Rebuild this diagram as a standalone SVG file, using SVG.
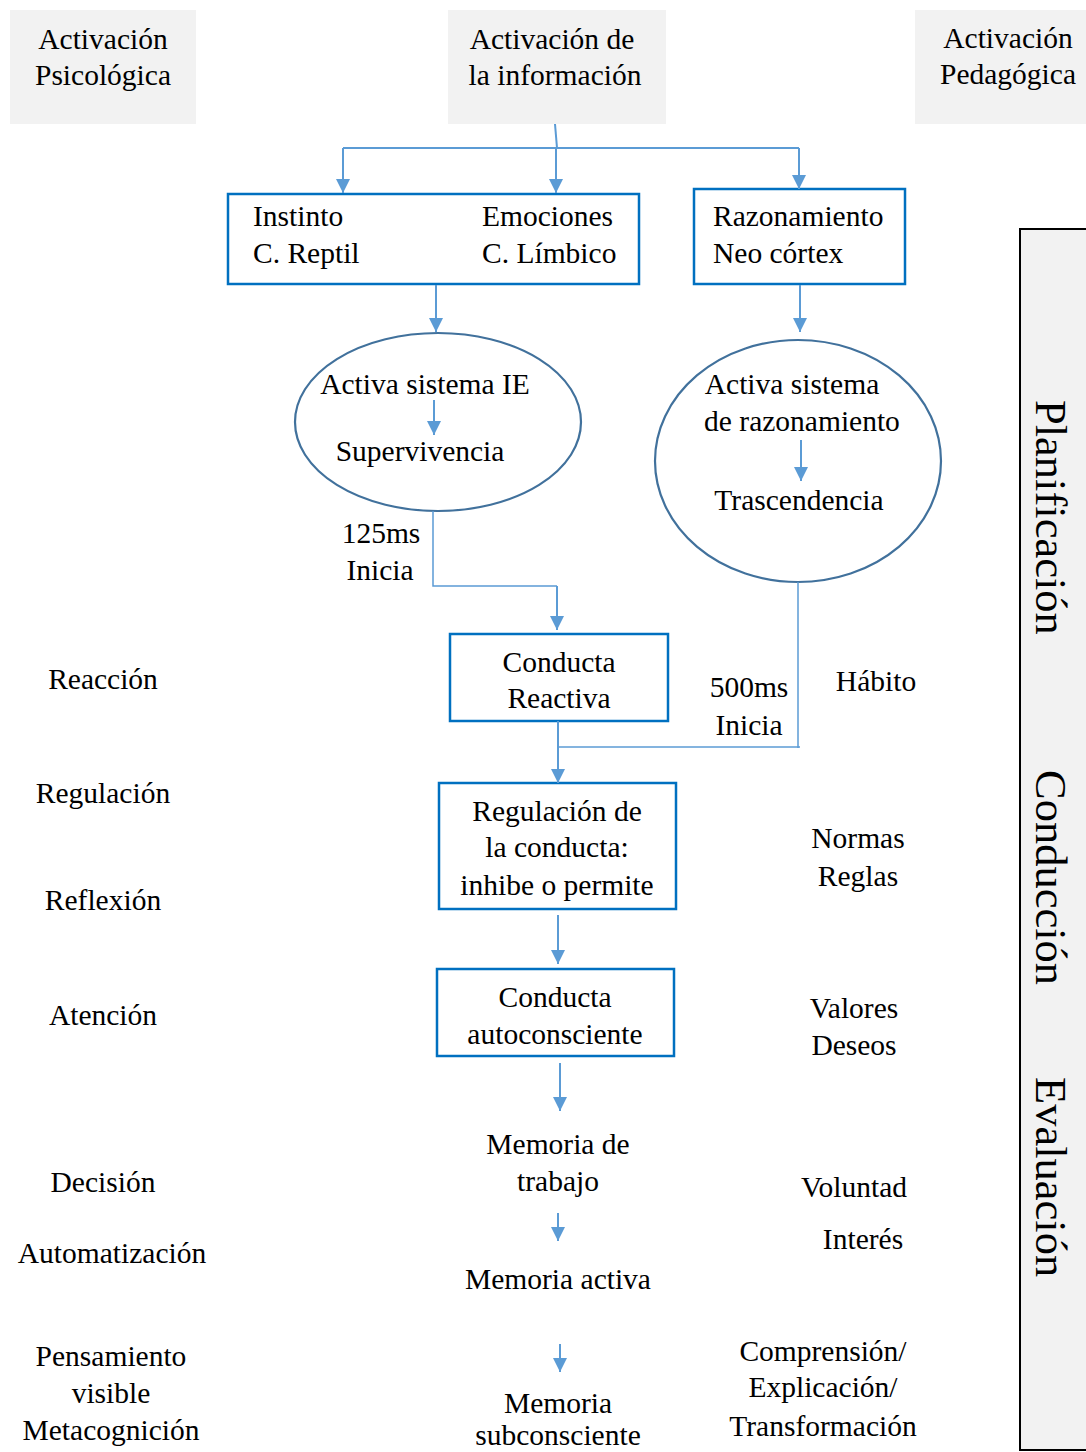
<svg xmlns="http://www.w3.org/2000/svg" width="1086" height="1452" viewBox="0 0 1086 1452">
<style>
text{font-family:"Liberation Serif","Times New Roman",serif;font-size:29.5px;fill:#000}
.c{text-anchor:middle}
.gray{fill:#f2f2f2;stroke:none}
.box{fill:#fff;stroke:#0070c0;stroke-width:2.5}
.ell{fill:none;stroke:#41719c;stroke-width:2.2}
.ln{fill:none;stroke:#5b9bd5;stroke-width:2}
.thin{fill:none;stroke:#5b9bd5;stroke-width:1.5}
.arr{marker-end:url(#ah)}
.side{font-size:44.5px}
</style>
<defs>
<marker id="ah" markerUnits="userSpaceOnUse" markerWidth="14" markerHeight="14" refX="14" refY="7" orient="auto">
<path d="M0,0 L14,7 L0,14 z" fill="#5b9bd5"/>
</marker>
</defs>
<rect width="1086" height="1452" fill="#fff"/>

<g id="act-psico">
<rect class="gray" x="10" y="10" width="186" height="114"/>
<text class="c" x="103" y="49">Activación</text>
<text class="c" x="103" y="85">Psicológica</text>
</g>
<g id="act-info">
<rect class="gray" x="448" y="10" width="218" height="114"/>
<text class="c" x="552" y="49">Activación de</text>
<text class="c" x="555" y="85">la información</text>
</g>
<g id="act-pedag">
<rect class="gray" x="915" y="10" width="171" height="114"/>
<text class="c" x="1008" y="48">Activación</text>
<text class="c" x="1008" y="84">Pedagógica</text>
</g>

<g id="phases">
<rect x="1020" y="229" width="70" height="1221" fill="#f2f2f2" stroke="#000" stroke-width="2"/>
<text class="side" transform="translate(1036,400) rotate(90)">Planificación</text>
<text class="side" transform="translate(1036,770) rotate(90)">Conducción</text>
<text class="side" transform="translate(1036,1077) rotate(90)">Evaluación</text>
</g>

<g id="cerebro-reptil-limbico">
<rect class="box" x="228" y="194" width="411" height="90"/>
<text x="253" y="226">Instinto</text>
<text x="253" y="263">C. Reptil</text>
<text x="482" y="226">Emociones</text>
<text x="482" y="263">C. Límbico</text>
</g>
<g id="neocortex">
<rect class="box" x="694" y="189" width="211" height="95"/>
<text x="713" y="226">Razonamiento</text>
<text x="713" y="263">Neo córtex</text>
</g>

<g id="sistema-ie">
<ellipse class="ell" cx="438" cy="422" rx="143" ry="89"/>
<text class="c" x="425" y="394">Activa sistema IE</text>
<text class="c" x="420" y="461">Supervivencia</text>
</g>
<g id="sistema-razonamiento">
<ellipse class="ell" cx="798" cy="461" rx="143" ry="121"/>
<text class="c" x="792" y="394">Activa sistema</text>
<text class="c" x="802" y="431">de razonamiento</text>
<text class="c" x="799" y="510">Trascendencia</text>
</g>

<g id="label-125">
<text class="c" x="381" y="543">125ms</text>
<text class="c" x="380" y="580">Inicia</text>
</g>
<g id="label-500">
<text class="c" x="749" y="697">500ms</text>
<text class="c" x="749" y="735">Inicia</text>
</g>

<g id="conducta-reactiva">
<rect class="box" x="450" y="634" width="218" height="87"/>
<text class="c" x="559" y="672">Conducta</text>
<text class="c" x="559" y="708">Reactiva</text>
</g>
<g id="regulacion-conducta">
<rect class="box" x="439" y="783" width="237" height="126"/>
<text class="c" x="557" y="821">Regulación de</text>
<text class="c" x="557" y="857">la conducta:</text>
<text class="c" x="557" y="895">inhibe o permite</text>
</g>
<g id="conducta-autoconsciente">
<rect class="box" x="437" y="969" width="237" height="87"/>
<text class="c" x="555" y="1007">Conducta</text>
<text class="c" x="555" y="1044">autoconsciente</text>
</g>
<g id="memoria-trabajo">
<text class="c" x="558" y="1154">Memoria de</text>
<text class="c" x="558" y="1191">trabajo</text>
</g>
<g id="memoria-activa">
<text class="c" x="558" y="1289">Memoria activa</text>
</g>
<g id="memoria-subconsciente">
<text class="c" x="558" y="1413">Memoria</text>
<text class="c" x="558" y="1445">subconsciente</text>
</g>

<g id="left-labels">
<text class="c" x="103" y="689">Reacción</text>
<text class="c" x="103" y="803">Regulación</text>
<text class="c" x="103" y="910">Reflexión</text>
<text class="c" x="103" y="1025">Atención</text>
<text class="c" x="103" y="1192">Decisión</text>
<text class="c" x="112" y="1263">Automatización</text>
<text class="c" x="111" y="1366">Pensamiento</text>
<text class="c" x="111" y="1403">visible</text>
<text class="c" x="111" y="1440">Metacognición</text>
</g>

<g id="right-labels">
<text class="c" x="876" y="691">Hábito</text>
<text class="c" x="858" y="848">Normas</text>
<text class="c" x="858" y="886">Reglas</text>
<text class="c" x="854" y="1018">Valores</text>
<text class="c" x="854" y="1055">Deseos</text>
<text class="c" x="854" y="1197">Voluntad</text>
<text class="c" x="863" y="1249">Interés</text>
<text class="c" x="823" y="1361">Comprensión/</text>
<text class="c" x="823" y="1397">Explicación/</text>
<text class="c" x="823" y="1436">Transformación</text>
</g>

<g id="connectors">
<path class="ln" d="M555,124 L557,148"/>
<path class="ln" d="M343,148 L799,148"/>
<path class="ln arr" d="M343,148 L343,193"/>
<path class="ln arr" d="M556,148 L556,193"/>
<path class="ln arr" d="M799,148 L799,189"/>
<path class="ln arr" d="M436,285 L436,332"/>
<path class="ln arr" d="M800,285 L800,332"/>
<path class="ln arr" d="M434,400 L434,435"/>
<path class="ln arr" d="M801,440 L801,481"/>
<path class="thin" d="M433,511 L433,586 L557,586"/>
<path class="ln arr" d="M557,586 L557,630"/>
<path class="ln arr" d="M558,721 L558,783"/>
<path class="thin" d="M558,747 L800,747"/>
<path class="thin" d="M798,582 L798,748"/>
<path class="ln arr" d="M558,915 L558,964"/>
<path class="ln arr" d="M560,1063 L560,1111"/>
<path class="ln arr" d="M558,1213 L558,1241"/>
<path class="ln arr" d="M560,1344 L560,1372"/>
</g>
</svg>
